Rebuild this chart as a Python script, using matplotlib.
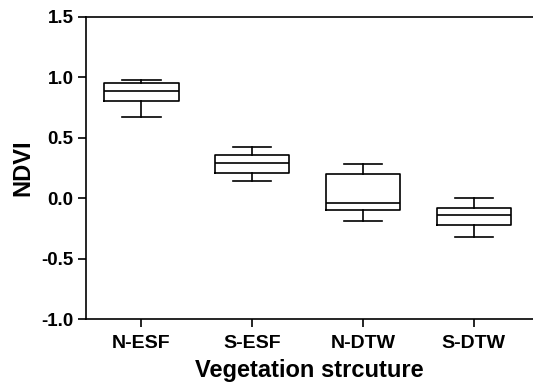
import matplotlib
matplotlib.use("Agg")
import matplotlib.pyplot as plt

# box stats
groups = ["N-ESF", "S-ESF", "N-DTW", "S-DTW"]
whis_low = [0.67, 0.14, -0.19, -0.32]
q1 = [0.80, 0.21, -0.10, -0.22]
median = [0.89, 0.29, -0.04, -0.14]
q3 = [0.95, 0.36, 0.20, -0.08]
whis_high = [0.98, 0.42, 0.28, 0.00]

yticks = [-1.0, -0.5, 0.0, 0.5, 1.0, 1.5]

plt.rcParams['font.family'] = ['Liberation Sans', 'DejaVu Sans']
plt.rcParams['font.weight'] = 'bold'

fig = plt.figure(figsize=(5.33, 3.91), dpi=100)
ax = fig.add_axes([0.1614, 0.1834, 0.8386, 0.7739])

stats = []
for i, g in enumerate(groups):
    stats.append({'label': g, 'whislo': whis_low[i], 'q1': q1[i], 'med': median[i],
                  'q3': q3[i], 'whishi': whis_high[i], 'fliers': []})

line = dict(color='black', linewidth=1.2)
ax.bxp(stats, positions=range(1, len(groups) + 1), widths=0.67, showfliers=False,
       boxprops=line, whiskerprops=line, capprops=line,
       medianprops=line, capwidths=0.345)

ax.set_xlim(0.5, 4.535)
ax.set_ylim(-1.0, 1.5)
ax.set_yticks(yticks)
ax.set_yticklabels([f'{v:.1f}' for v in yticks])

ax.spines['right'].set_visible(False)
for s in ['left', 'bottom', 'top']:
    ax.spines[s].set_linewidth(1.2)

ax.tick_params(axis='y', direction='out', length=6, width=1.2, pad=3, labelsize=13.5)
ax.tick_params(axis='x', direction='out', length=5.5, width=1.2, pad=6, labelsize=14)
for lab in ax.get_xticklabels() + ax.get_yticklabels():
    lab.set_fontweight('bold')

ax.set_ylabel('NDVI', fontsize=17, fontweight='bold', labelpad=5)
ax.set_xlabel('Vegetation strcuture', fontsize=17, fontweight='bold', labelpad=5)

fig.savefig('out.png', dpi=100)
